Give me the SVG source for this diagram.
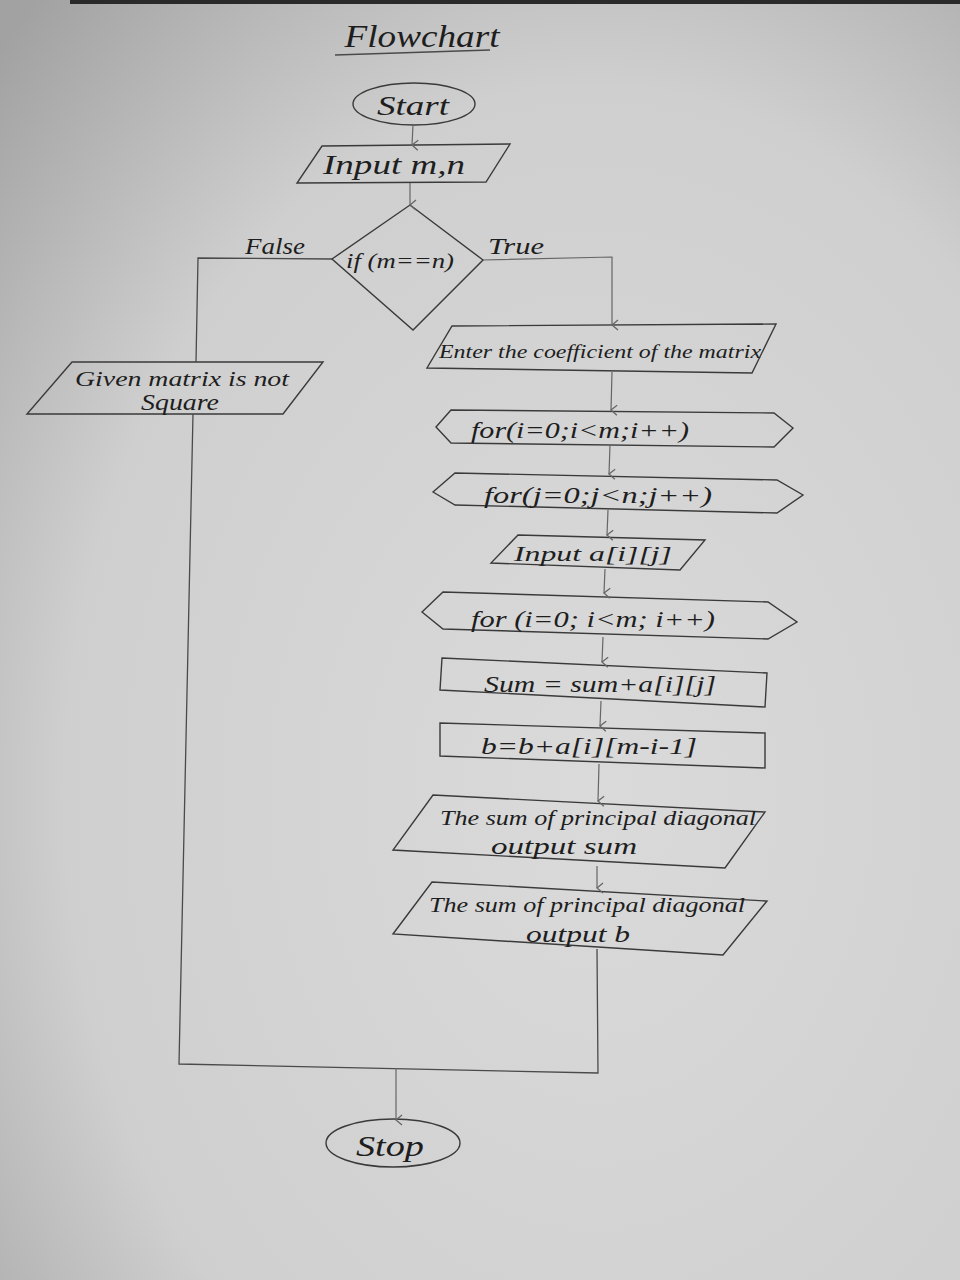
<svg xmlns="http://www.w3.org/2000/svg" width="960" height="1280" viewBox="0 0 960 1280">
<defs>
<radialGradient id="paper" cx="0.62" cy="0.62" r="0.85">
<stop offset="0" stop-color="#dadada"/>
<stop offset="0.65" stop-color="#cfcfcf"/>
<stop offset="1" stop-color="#a2a2a2"/>
</radialGradient>
<marker id="arr" viewBox="0 0 12 12" refX="6" refY="11" markerWidth="12" markerHeight="12" markerUnits="userSpaceOnUse" orient="auto-start-reverse">
<path d="M1,5 L6,11 L11,5" fill="none" stroke="#666" stroke-width="1.3"/>
</marker>
</defs>
<style>
.sh{fill:none;stroke:#3a3a3a;stroke-width:1.4}
.ln{fill:none;stroke:#4a4a4a;stroke-width:1.3}
.ar{fill:none;stroke:#666;stroke-width:1.2;marker-end:url(#arr)}
text{font-family:"Liberation Serif","DejaVu Serif",serif;font-style:italic;fill:#1e1e1e;text-anchor:middle}
</style>
<rect width="960" height="1280" fill="url(#paper)"/>
<rect x="70" y="0" width="890" height="4" fill="#2a2a2a"/>

<g id="title">
<text x="422" y="47" font-size="31" textLength="155" lengthAdjust="spacingAndGlyphs">Flowchart</text>
<path class="ln" d="M335,55 L490,50"/>
</g>

<g id="start">
<ellipse class="sh" cx="414" cy="104" rx="61" ry="21"/>
<text x="413" y="115" font-size="27" textLength="72" lengthAdjust="spacingAndGlyphs">Start</text>
</g>

<g id="input">
<path class="sh" d="M322,146 L510,144 L486,182 L297,183 Z"/>
<text x="394" y="174" font-size="28" textLength="142" lengthAdjust="spacingAndGlyphs">Input m,n</text>
</g>

<g id="decision">
<path class="sh" d="M410,205 L483,260 L413,330 L332,259 Z"/>
<text x="400" y="268" font-size="21" textLength="108" lengthAdjust="spacingAndGlyphs">if (m==n)</text>
</g>

<g id="labels">
<text x="275" y="254" font-size="24" textLength="60" lengthAdjust="spacingAndGlyphs">False</text>
<text x="516" y="254" font-size="24" textLength="56" lengthAdjust="spacingAndGlyphs">True</text>
</g>

<g id="notsquare">
<path class="sh" d="M72,362 L323,362 L283,414 L27,414 Z"/>
<text x="182" y="386" font-size="22" textLength="214" lengthAdjust="spacingAndGlyphs">Given matrix is not</text>
<text x="180" y="410" font-size="23" textLength="78" lengthAdjust="spacingAndGlyphs">Square</text>
</g>

<g id="enter">
<path class="sh" d="M452,326 L776,324 L752,373 L427,368 Z"/>
<text x="600" y="358" font-size="19" textLength="322" lengthAdjust="spacingAndGlyphs">Enter the coefficient of the matrix</text>
</g>

<g id="for1">
<path class="sh" d="M436,427 L451,410 L774,413 L793,428 L774,447 L451,443 Z"/>
<text x="580" y="438" font-size="24" textLength="218" lengthAdjust="spacingAndGlyphs">for(i=0;i&lt;m;i++)</text>
</g>

<g id="for2">
<path class="sh" d="M433,492 L455,473 L777,480 L803,495 L777,513 L455,505 Z"/>
<text x="598" y="503" font-size="24" textLength="228" lengthAdjust="spacingAndGlyphs">for(j=0;j&lt;n;j++)</text>
</g>

<g id="inputa">
<path class="sh" d="M518,535 L705,540 L680,570 L491,563 Z"/>
<text x="593" y="561" font-size="22" textLength="158" lengthAdjust="spacingAndGlyphs">Input a[i][j]</text>
</g>

<g id="for3">
<path class="sh" d="M422,612 L443,592 L768,602 L797,622 L768,639 L443,629 Z"/>
<text x="593" y="627" font-size="24" textLength="244" lengthAdjust="spacingAndGlyphs">for (i=0; i&lt;m; i++)</text>
</g>

<g id="sum">
<path class="sh" d="M442,658 L767,673 L765,707 L440,690 Z"/>
<text x="600" y="692" font-size="23" textLength="232" lengthAdjust="spacingAndGlyphs">Sum = sum+a[i][j]</text>
</g>

<g id="bcalc">
<path class="sh" d="M440,723 L765,733 L765,768 L440,756 Z"/>
<text x="589" y="754" font-size="23" textLength="216" lengthAdjust="spacingAndGlyphs">b=b+a[i][m-i-1]</text>
</g>

<g id="outsum">
<path class="sh" d="M433,795 L765,812 L725,868 L393,850 Z"/>
<text x="598" y="825" font-size="21" textLength="316" lengthAdjust="spacingAndGlyphs">The sum of principal diagonal</text>
<text x="564" y="854" font-size="23" textLength="146" lengthAdjust="spacingAndGlyphs">output sum</text>
</g>

<g id="outb">
<path class="sh" d="M432,882 L767,901 L723,955 L393,934 Z"/>
<text x="587" y="912" font-size="21" textLength="316" lengthAdjust="spacingAndGlyphs">The sum of principal diagonal</text>
<text x="578" y="942" font-size="23" textLength="104" lengthAdjust="spacingAndGlyphs">output b</text>
</g>

<g id="stop">
<ellipse class="sh" cx="393" cy="1143" rx="67" ry="24" stroke="#555"/>
<text x="390" y="1156" font-size="29" textLength="68" lengthAdjust="spacingAndGlyphs">Stop</text>
</g>

<g id="connectors">
<path class="ar" d="M413,125 L412,145"/>
<path class="ar" d="M410,183 L410,205"/>
<path class="ln" d="M332,259 L198,258 L196,362"/>
<path class="ar" d="M483,260 L612,257 L612,325"/>
<path class="ar" d="M612,372 L611,410"/>
<path class="ar" d="M610,445 L609,474"/>
<path class="ar" d="M608,510 L607,535"/>
<path class="ar" d="M605,569 L604,593"/>
<path class="ar" d="M603,637 L602,662"/>
<path class="ar" d="M601,701 L600,726"/>
<path class="ar" d="M599,764 L598,801"/>
<path class="ar" d="M597,866 L597,888"/>
<path class="ln" d="M193,414 L179,1064 L598,1073 L597,949"/>
<path class="ar" d="M396,1068 L396,1120"/>
</g>
</svg>
